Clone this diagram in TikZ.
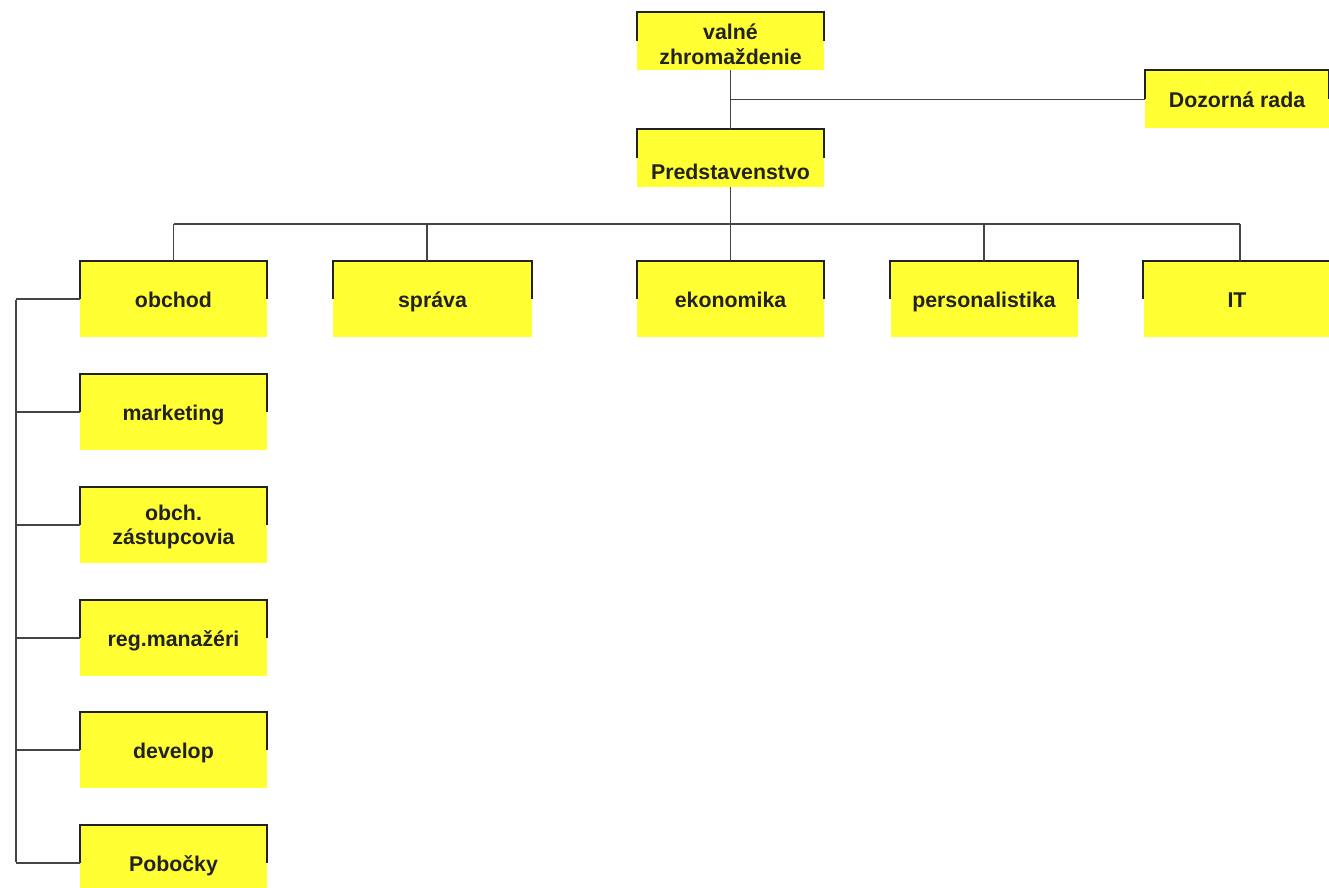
\documentclass[tikz,border=0pt]{standalone}
\usepackage{fontspec}
\setmainfont{Liberation Sans}
\definecolor{boxyellow}{HTML}{FFFF33}
\definecolor{inkdark}{HTML}{222222}
\definecolor{linegray}{HTML}{444444}
\tikzset{
  boxfont/.style={font=\fontsize{16pt}{18.5pt}\selectfont\bfseries, text=inkdark},
  orgbox/.style={fill=boxyellow, inner sep=0pt, minimum width=140.25pt, minimum height=57pt,
    boxfont, text height=14pt, text depth=1.5pt},
  topbox/.style={orgbox, minimum height=43.5pt},
  bracket/.style={draw=inkdark, line width=1.7pt},
  conn/.style={draw=linegray, line width=1.1pt}
}
\begin{document}
\begin{tikzpicture}[x=0.75pt, y=-0.75pt]
\useasboundingbox (0,0) rectangle (1329,888);
\clip (0,0) rectangle (1329,888);
% top
\node[topbox] (vz) at (730.5,41) {};
\node[boxfont, align=center] (vzt) at (730.5,44) {valné\\zhromaždenie};
\node[topbox, minimum width=138pt] (dr) at (1237,99.5) {Dozorná rada};
\node[topbox] (pr) at (730.5,158) {};
\node[boxfont] (prt) at (730.5,172) {Predstavenstvo};
% row
\node[orgbox] (ob) at (173.5,299) {obchod};
\node[orgbox, minimum width=149.25pt] (sp) at (432.5,299) {správa};
\node[orgbox] (ek) at (730.5,299) {ekonomika};
\node[orgbox] (pe) at (984,299) {personalistika};
\node[orgbox] (it) at (1237,299) {IT};
% column
\node[orgbox] (ma) at (173.5,412) {marketing};
\node[orgbox] (oz) at (173.5,525) {};
\node[boxfont, align=center] (ozt) at (173.5,527) {obch.\\zástupcovia};
\node[orgbox] (rm) at (173.5,638) {reg.manažéri};
\node[orgbox] (de) at (173.5,750) {develop};
\node[orgbox] (po) at (173.5,863) {Pobočky};
% brackets
\foreach \n in {vz,dr,pr,ob,sp,ek,pe,it,ma,oz,rm,de,po}{
  \draw[bracket] (\n.west) |- (\n.north) -| (\n.east);
}
% connectors
\coordinate (j1) at (vz.south |- dr.west);
\draw[conn] (vz.south) -- (pr.north);
\draw[conn] (j1) -- (dr.west);
\coordinate (bus) at (730.5,224);
\draw[conn] (pr.south) -- (bus);
\coordinate (busL) at (173.5,224);
\coordinate (busR) at (1240,224);
\draw[conn] (busL) -- (busR);
\foreach \xx in {173.5,427,730.5,984,1240}{
  \draw[conn] (\xx,224) -- (\xx,261);
}
\coordinate (sp1) at (16,300);
\coordinate (sp2) at (16,862);
\draw[conn] (sp1) -- (sp2);
\foreach \n in {ob,ma,oz,rm,de,po}{
  \draw[conn] (16,0 |- \n.west) -- (\n.west);
}
\end{tikzpicture}
\end{document}
